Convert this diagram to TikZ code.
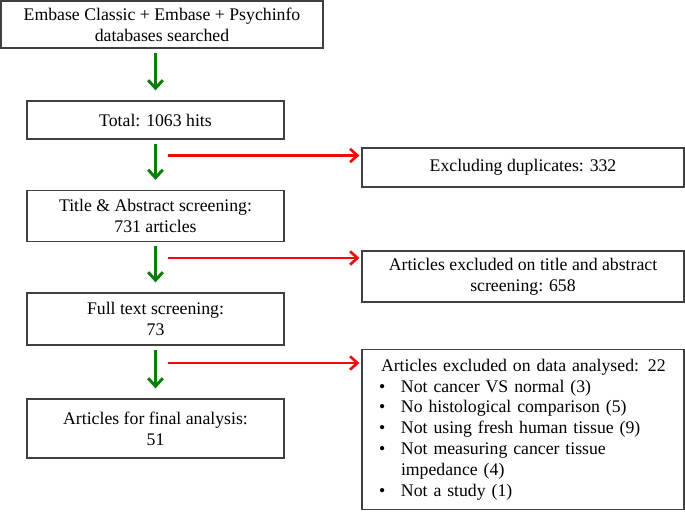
\documentclass[tikz,border=0pt]{standalone}
\usepackage{fontspec}
\setmainfont{Liberation Serif}
\usetikzlibrary{arrows.meta, calc}

\definecolor{flowgreen}{RGB}{10,125,10}
\definecolor{flowred}{RGB}{240,10,10}
\newcommand{\bul}{\makebox[16.5pt][l]{\textbullet}}

\begin{document}
\begin{tikzpicture}[x=0.75pt, y=-0.75pt,
    box/.style={draw=black!75, line width=0.9pt, align=center, inner sep=2pt,
        font=\fontsize{13.3}{15.6}\selectfont},
    lbox/.style={box, minimum width=192.75pt},
    rbox/.style={box, minimum width=241.5pt},
    garrow/.style={draw=flowgreen, line width=2.2pt, -{Straight Barb[length=6pt,width=11pt]},
        shorten <=3pt, shorten >=7.5pt},
    rarrow/.style={draw=flowred, line width=2pt, -{Straight Barb[length=5.5pt,width=10pt]},
        shorten >=1.5pt}]
        \useasboundingbox (0,0) rectangle (685,511);

        % left column
        \node[rbox, minimum height=35.25pt] (search) at (162,24.5) {Embase Classic + Embase + Psychinfo\\databases searched};
        \node[lbox, minimum height=28.5pt] (total) at (155.5,120) {Total: 1063 hits};
        \node[lbox, minimum height=38.25pt] (screen) at (155.5,216) {Title \& Abstract screening:\\731 articles};
        \node[lbox, minimum height=39pt] (fulltext) at (155.5,319) {Full text screening:\\73};
        \node[lbox, minimum height=44.25pt] (final) at (155.5,428.5) {Articles for final analysis:\\51};

        % right column
        \node[rbox, minimum height=29.25pt] (dupes) at (523,167.5) {Excluding duplicates: 332};
        \node[rbox, minimum height=38.25pt] (tiabout) at (523,276.5) {Articles excluded on title and abstract\\screening: 658};
        \node[rbox, minimum height=120pt, align=left, inner xsep=12pt, text width=216pt] (dataout) at (523,429.5) {%
            \hspace*{1.5pt}Articles excluded on data analysed: 22\\
            \bul Not cancer VS normal (3)\\
            \bul No histological comparison (5)\\
            \bul Not using fresh human tissue (9)\\
            \bul Not measuring cancer tissue\\
            \hspace*{16.5pt}impedance (4)\\
            \bul Not a study (1)};

        % flow
        \draw[garrow] (search.south -| total.north) -- (total.north);
        \draw[garrow] (total.south) -- (screen.north);
        \draw[garrow] (screen.south) -- (fulltext.north);
        \draw[garrow] (fulltext.south) -- (final.north);

        % exclusions
        \coordinate (x1) at (168,155.5);
        \coordinate (x2) at (168,258);
        \coordinate (x3) at (168,363);
        \draw[rarrow] (x1) -- (x1 -| dupes.west);
        \draw[rarrow] (x2) -- (x2 -| tiabout.west);
        \draw[rarrow] (x3) -- (x3 -| dataout.west);
\end{tikzpicture}
\end{document}
